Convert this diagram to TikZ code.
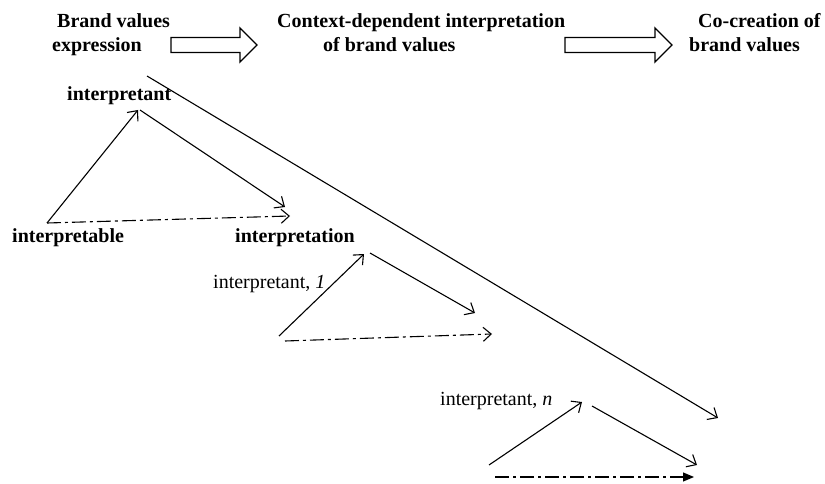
\documentclass[tikz,border=0pt]{standalone}
\usepackage{fontspec}
\setmainfont{Liberation Serif}
\usetikzlibrary{arrows.meta}
\tikzset{
  hd/.style={inner sep=0pt, anchor=base west, font=\fontsize{20}{24}\selectfont\bfseries},
  lbl/.style={inner sep=0pt, anchor=base west, font=\fontsize{20}{24}\selectfont},
  conn/.style={line width=1.1pt, -{Straight Barb[length=8pt,width=14pt,line width=1.1pt]}},
  dd/.style={conn, dash pattern=on 14pt off 4pt on 3pt off 4pt},
  ddf/.style={line width=1.1pt, dash pattern=on 14pt off 4pt on 3pt off 4pt, -{Triangle[length=11pt,width=9pt]}},
  blockarrow/.style={line width=1.3pt, line join=miter},
}
\begin{document}
\begin{tikzpicture}[x=1pt,y=-1pt]
\useasboundingbox (0,0) rectangle (825,484);
% headings
\node[hd] (h1a) at (57,28) {Brand values};
\node[hd] (h1b) at (52,52) {expression};
\node[hd] (h2a) at (277,28) {Context-dependent interpretation};
\node[hd] (h2b) at (323,52) {of brand values};
\node[hd] (h3a) at (698,28) {Co-creation of};
\node[hd] (h3b) at (689,52) {brand values};
% block arrows
\draw[blockarrow] (171,37.5) -- (240,37.5) -- (240,28) -- (257,45) -- (240,62) -- (240,52.5) -- (171,52.5) -- cycle;
\draw[blockarrow] (565,37.5) -- (655,37.5) -- (655,28) -- (672,45) -- (655,62) -- (655,52.5) -- (565,52.5) -- cycle;
% labels
\node[hd] (lt) at (67,101) {interpretant};
\node[hd] (lb) at (12,242) {interpretable};
\node[hd] (ln) at (235,242) {interpretation};
\node[lbl] (l1) at (213,288) {interpretant, \textit{1}};
\node[lbl] (l2) at (440,405) {interpretant, \textit{n}};
% coordinates
\coordinate (a1) at (47,223);
\coordinate (b1) at (138,110);
\coordinate (b1s) at (140,110);
\coordinate (c1) at (285,207);
\coordinate (d1) at (290,216);
\coordinate (a2) at (279,336);
\coordinate (b2) at (364,254);
\coordinate (b2s) at (370,253);
\coordinate (c2) at (475,313);
\coordinate (a2d) at (285,341);
\coordinate (d2) at (492,334);
\coordinate (a3) at (489,465);
\coordinate (b3) at (582,402);
\coordinate (b3s) at (592,406);
\coordinate (c3) at (697,465);
\coordinate (a3d) at (495,477);
\coordinate (d3) at (694,477);
\coordinate (ls) at (147,76);
\coordinate (le) at (718,418);
% triangle 1
\draw[conn] (a1) -- (b1);
\draw[conn] (b1s) -- (c1);
\draw[dd] (a1) -- (d1);
% triangle 2
\draw[conn] (a2) -- (b2);
\draw[conn] (b2s) -- (c2);
\draw[dd] (a2d) -- (d2);
% triangle 3
\draw[conn] (a3) -- (b3);
\draw[conn] (b3s) -- (c3);
\draw[ddf] (a3d) -- (d3);
% long line
\draw[conn] (ls) -- (le);
\end{tikzpicture}
\end{document}
